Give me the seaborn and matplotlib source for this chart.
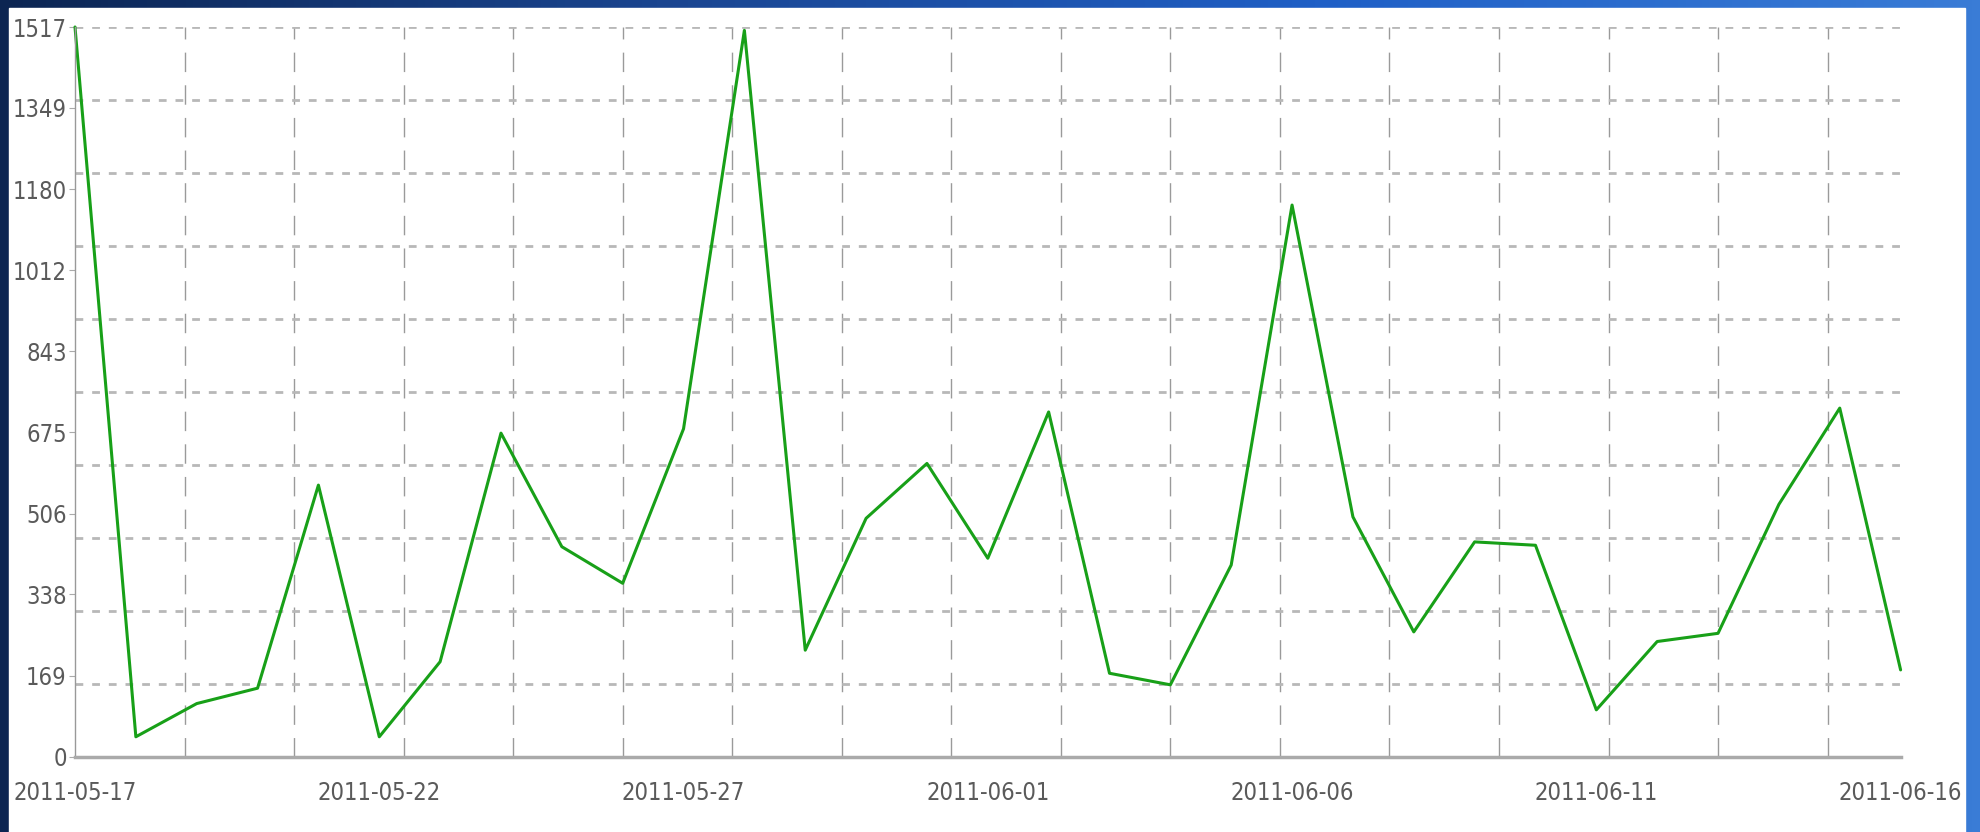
import numpy as np
import pandas as pd
import matplotlib
matplotlib.use("Agg")
import matplotlib.pyplot as plt
import matplotlib.dates as mdates
from matplotlib.colors import LinearSegmentedColormap
from matplotlib.patches import Rectangle
import seaborn as sns

# data
dates = pd.date_range("2011-05-17", "2011-06-16", freq="D")
counts = [1517, 42, 111, 143, 565, 42, 198, 673, 437, 361, 682,
          1510, 222, 496, 610, 413, 717, 174, 150, 399, 1147,
          499, 260, 447, 440, 98, 240, 257, 525, 725, 181]
ytick_vals = [0, 169, 338, 506, 675, 843, 1012, 1180, 1349, 1517]
ymax = 1517

df = pd.DataFrame({"date": dates, "count": counts})

sns.set_style("white")
plt.rcParams["font.family"] = ["DejaVu Sans", "Liberation Sans"]
plt.rcParams["font.stretch"] = "condensed"

fig = plt.figure(figsize=(19.8, 8.32), dpi=100)

# blue frame behind the white panel
bg = fig.add_axes([0, 0, 1, 1], zorder=-10)
cmap = LinearSegmentedColormap.from_list("frame", ["#0c2552", "#1a4590", "#1f5fc6", "#3a7cd6"])
grad = np.tile(np.linspace(0, 1, 256), (8, 1))
bg.imshow(grad, cmap=cmap, aspect="auto", extent=[0, 1, 0, 1])
bg.add_patch(Rectangle((9 / 1980, 0), (1965 - 9) / 1980, (832 - 8) / 832,
                       transform=bg.transAxes, color="white"))
bg.set_axis_off()

ax = fig.add_axes([75 / 1980, 75 / 832, (1900.6 - 75) / 1980, (757 - 27) / 832])
sns.lineplot(data=df, x="date", y="count", ax=ax, color="#18a018", linewidth=2.2, clip_on=False)

x0 = mdates.date2num(dates[0])
x1 = mdates.date2num(dates[-1])
ax.set_xlim(x0, x1)
ax.set_ylim(0, ymax)

# labels every 5 days, vertical grid every 1.8 days
ax.set_xticks(mdates.date2num(dates[::5]))
ax.set_xticklabels([d.strftime("%Y-%m-%d") for d in dates[::5]])
ax.set_xticks(np.arange(x0 + 1.8, x1, 1.8), minor=True)
ax.xaxis.grid(True, which="minor", color="#9a9a9a", linestyle=(0, (14, 9.5)), linewidth=1.0)
ax.xaxis.grid(False, which="major")

# y labels at ninths, horizontal grid at tenths
ax.yaxis.remove_overlapping_locs = False
ax.set_yticks(ytick_vals)
ax.set_yticklabels([str(v) for v in ytick_vals])
ax.set_yticks(np.linspace(0, ymax, 11), minor=True)
ax.yaxis.grid(True, which="minor", color="#b8b8b8", linestyle=(0, (2.8, 3.2)), linewidth=2.0)
ax.yaxis.grid(False, which="major")

ax.tick_params(axis="x", which="both", length=0, labelsize=17, labelcolor="#5a5a5a", pad=17)
ax.tick_params(axis="y", which="major", length=4, color="#aaaaaa", labelsize=17,
               labelcolor="#5a5a5a", pad=2, left=True)
ax.tick_params(axis="y", which="minor", length=0)

for s in ["top", "right"]:
    ax.spines[s].set_visible(False)
ax.spines["left"].set_color("#999999")
ax.spines["left"].set_linewidth(1.0)
ax.spines["bottom"].set_color("#aaaaaa")
ax.spines["bottom"].set_linewidth(2.5)
ax.spines["bottom"].set_zorder(3)

ax.set_xlabel("")
ax.set_ylabel("")
ax.set_facecolor("white")

fig.savefig("out.png", dpi=100)
